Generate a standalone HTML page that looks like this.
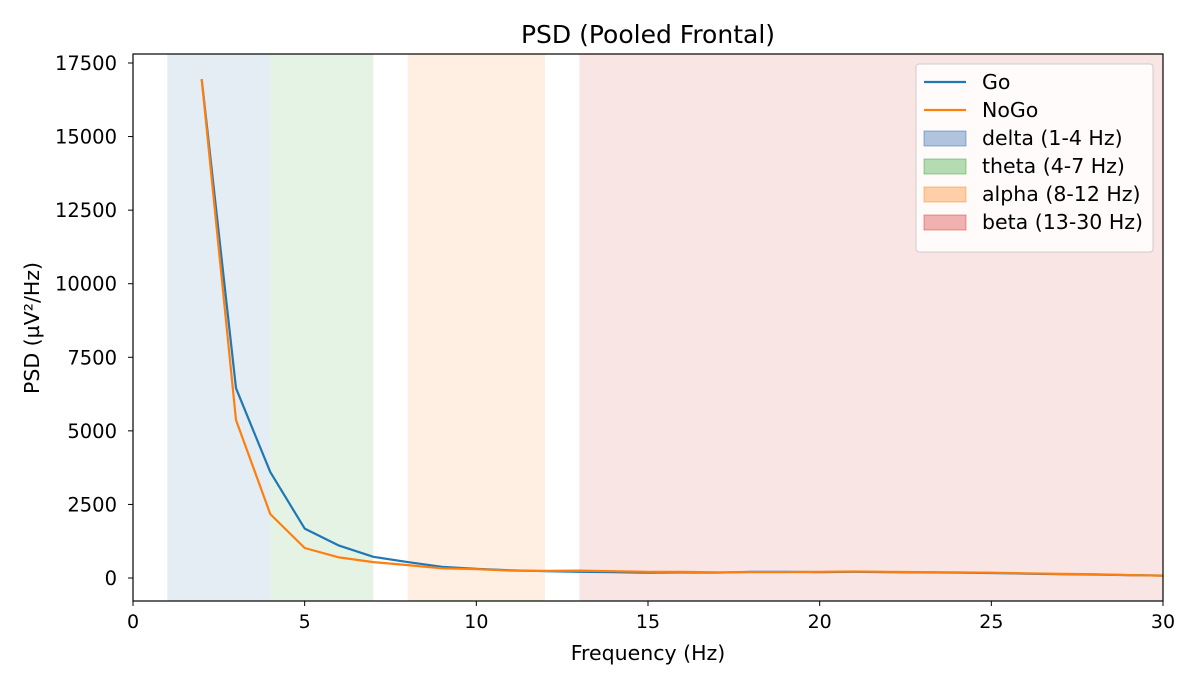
<!DOCTYPE html>
<html><head><meta charset="utf-8"><style>
body{margin:0;background:#fff;font-family:"Liberation Sans","DejaVu Sans",sans-serif;}
text{font-family:"DejaVu Sans","Liberation Sans",sans-serif;}
</style></head><body>
<svg id="chart" width="1200" height="688" xmlns="http://www.w3.org/2000/svg"></svg>
<script>
const freqs = [2,3,4,5,6,7,8,9,10,11,12,13,14,15,16,17,18,19,20,21,22,23,24,25,26,27,28,29,30];
const goValues = [16950,6450,3600,1680,1100,720,540,380,310,260,230,210,200,180,190,180,210,210,200,210,200,190,180,170,150,130,120,100,80];
const nogoValues = [16950,5370,2170,1020,700,540,440,330,300,250,240,250,230,210,210,190,200,200,210,220,210,200,190,180,160,140,130,100,80];
const bandNames = ["delta (1-4 Hz)","theta (4-7 Hz)","alpha (8-12 Hz)","beta (13-30 Hz)"];
const bandStarts = [1,4,8,13];
const bandEnds = [4,7,12,30];
const bandColors = ["#1f5fa8","#2ca02c","#ff7f0e","#d62728"];
const xTicks = [0,5,10,15,20,25,30];
const yTicks = [0,2500,5000,7500,10000,12500,15000,17500];

const svg = document.getElementById('chart');
const NS = 'http://www.w3.org/2000/svg';
const L=133,R=1163,T=54,B=601;
const xs = v => L + v/30*(R-L);
const ys = v => 578 - v*(515/17500);
function mk(tag, attrs, parent){const e=document.createElementNS(NS,tag);for(const k in attrs)e.setAttribute(k,attrs[k]);(parent||svg).appendChild(e);return e;}

bandStarts.forEach((s,i)=>{
  const r=mk('rect',{x:xs(s),y:T,width:xs(bandEnds[i])-xs(s),height:B-T,fill:bandColors[i],'fill-opacity':0.12});
  
  
});

function line(vals,color,name){
  const d=freqs.map((f,i)=>(i?'L':'M')+xs(f).toFixed(1)+','+ys(vals[i]).toFixed(1)).join('');
  const p=mk('path',{d,fill:'none',stroke:color,'stroke-width':2.2,'stroke-linejoin':'round'});
  
  
}
line(goValues,'#1f77b4','go-line');
line(nogoValues,'#ff7f0e','nogo-line');

const frame=mk('rect',{x:L,y:T,width:R-L,height:B-T,fill:'none',stroke:'#000','stroke-width':1.2});



xTicks.forEach(t=>{
  mk('line',{x1:xs(t),x2:xs(t),y1:B,y2:B+5,stroke:'#000'});
  const tx=mk('text',{x:xs(t),y:B+27,'text-anchor':'middle','font-size':19});
  tx.textContent=t;
  
  
});
yTicks.forEach(t=>{
  mk('line',{x1:L-5,x2:L,y1:ys(t),y2:ys(t),stroke:'#000'});
  const tx=mk('text',{x:L-16,y:ys(t)+7,'text-anchor':'end','font-size':19.5});
  tx.textContent=t;
  
  
});
let t=mk('text',{x:648,y:43,'text-anchor':'middle','font-size':25});t.textContent='PSD (Pooled Frontal)';


t=mk('text',{x:648,y:660,'text-anchor':'middle','font-size':20.5});t.textContent='Frequency (Hz)';


t=mk('text',{x:39,y:328,'text-anchor':'middle','font-size':20.5,transform:'rotate(-90 39 328)'});t.textContent='PSD (µV²/Hz)';



const lg=mk('g',{});


mk('rect',{x:916,y:64,width:237,height:188,rx:3,fill:'#fff','fill-opacity':0.85,stroke:'#ccc'},lg);
const entries=[['Go','#1f77b4',null],['NoGo','#ff7f0e',null]].concat(bandNames.map((n,i)=>[n,bandColors[i],1]));
entries.forEach((e,i)=>{
  const y=82+i*28;
  if(e[2]===null) mk('line',{x1:924,x2:966,y1:y,y2:y,stroke:e[1],'stroke-width':2.2},lg);
  else mk('rect',{x:924,y:y-7,width:42,height:15,fill:e[1],'fill-opacity':0.35,stroke:e[1],'stroke-opacity':0.45},lg);
  const tx=mk('text',{x:982,y:y+7,'font-size':20.5},lg);tx.textContent=e[0];
  
  
});
</script>
</body></html>
